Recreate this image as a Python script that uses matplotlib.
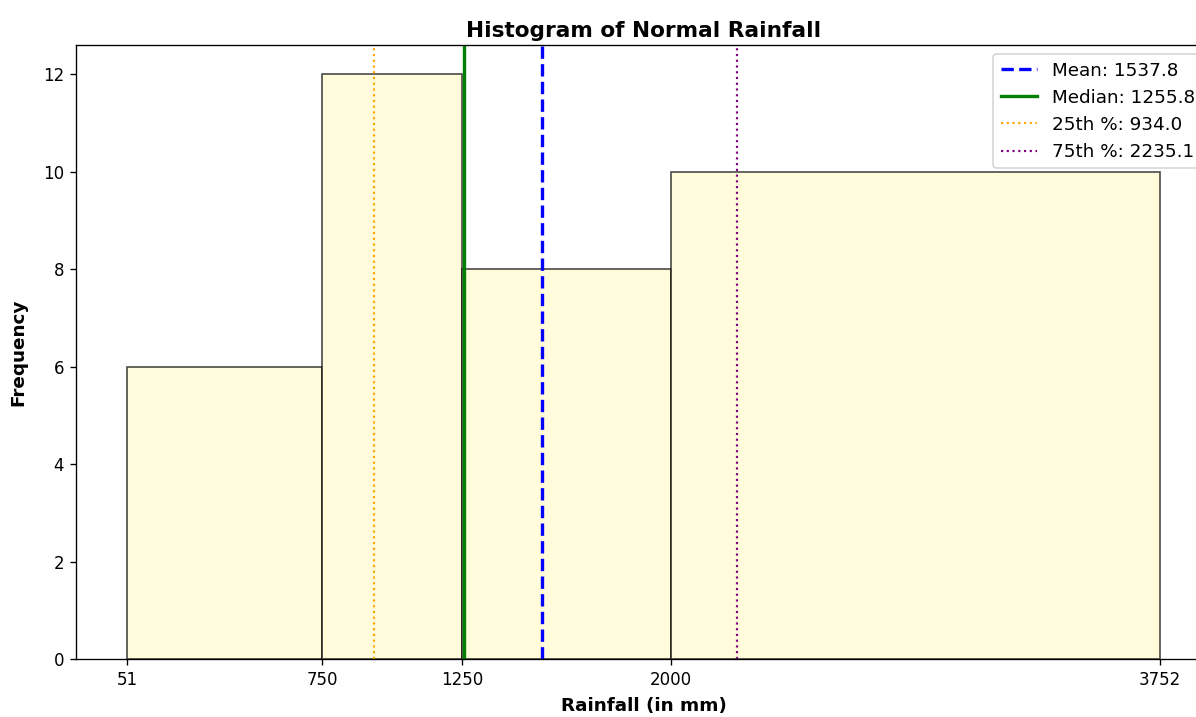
import numpy as np
import matplotlib
matplotlib.use('Agg')
import matplotlib.pyplot as plt

bin_edges = [51, 750, 1250, 2000, 3752]
counts = [6, 12, 8, 10]

mean_val = 1537.8
median_val = 1255.8
q25_val = 934.0
q75_val = 2235.1

fig = plt.figure(figsize=(1196 / 120, 717 / 120), dpi=120)
# original image was cropped on the right, so the axes runs past the edge
ax = fig.add_axes([0.0633, 0.0809, 0.9498, 0.8563])

ax.hist(bin_edges[:-1], bins=bin_edges, weights=counts,
        color='lemonchiffon', edgecolor='black', alpha=0.7)

ax.axvline(mean_val, color='blue', linestyle='--', linewidth=2,
           label=f'Mean: {mean_val:.1f}')
ax.axvline(median_val, color='green', linestyle='-', linewidth=2,
           label=f'Median: {median_val:.1f}')
ax.axvline(q25_val, color='orange', linestyle=':', linewidth=1.3,
           label=f'25th %: {q25_val:.1f}')
ax.axvline(q75_val, color='purple', linestyle=':', linewidth=1.3,
           label=f'75th %: {q75_val:.1f}')

ax.set_xticks(bin_edges)
ax.set_title('Histogram of Normal Rainfall', fontsize=13, fontweight='bold',
             pad=5)
ax.set_xlabel('Rainfall (in mm)', fontsize=11, fontweight='bold', labelpad=5)
ax.set_ylabel('Frequency', fontsize=11, fontweight='bold', labelpad=9)
ax.legend(loc='upper right', fontsize=11)

fig.savefig('out.png', dpi=120)
